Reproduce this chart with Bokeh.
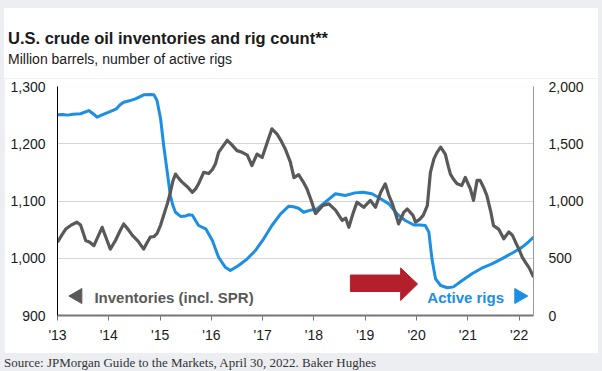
import math
from bokeh.plotting import figure
from bokeh.models import (Range1d, LinearAxis, FixedTicker, NumeralTickFormatter,
                          Label, Div)
from bokeh.layouts import column
from bokeh.embed import file_html
from bokeh.resources import INLINE

# ---------------- data ----------------
inv_t = [2013.00, 2013.08, 2013.16, 2013.27, 2013.38, 2013.45, 2013.55, 2013.63, 2013.71, 2013.80,
         2013.87, 2013.95, 2014.03, 2014.13, 2014.22, 2014.29, 2014.38, 2014.46, 2014.57, 2014.68,
         2014.75, 2014.81, 2014.88, 2014.94, 2015.01, 2015.07, 2015.14, 2015.20, 2015.25, 2015.30,
         2015.36, 2015.43, 2015.53, 2015.63, 2015.70, 2015.75, 2015.85, 2015.95, 2016.02, 2016.08,
         2016.14, 2016.22, 2016.31, 2016.40, 2016.50, 2016.60, 2016.70, 2016.79, 2016.89, 2016.99,
         2017.08, 2017.18, 2017.28, 2017.36, 2017.44, 2017.54, 2017.61, 2017.70, 2017.80, 2017.86,
         2017.95, 2018.03, 2018.10, 2018.17, 2018.29, 2018.42, 2018.55, 2018.62, 2018.68, 2018.76,
         2018.84, 2018.97, 2019.10, 2019.20, 2019.30, 2019.39, 2019.46, 2019.53, 2019.60, 2019.65,
         2019.75, 2019.82, 2019.93, 2019.98, 2020.06, 2020.13, 2020.21, 2020.27, 2020.34, 2020.40,
         2020.47, 2020.56, 2020.62, 2020.66, 2020.72, 2020.79, 2020.88, 2020.95, 2021.05, 2021.11,
         2021.18, 2021.24, 2021.30, 2021.37, 2021.45, 2021.50, 2021.60, 2021.70, 2021.80, 2021.87,
         2021.93, 2022.00, 2022.06, 2022.13, 2022.19, 2022.24, 2022.28]
inv_v = [1028, 1040, 1051, 1058, 1063, 1058, 1031, 1028, 1022, 1040,
         1054, 1035, 1016, 1031, 1048, 1060, 1050, 1040, 1030, 1016,
         1028, 1037, 1038, 1043, 1058, 1075, 1095, 1115, 1135, 1147,
         1140, 1133, 1125, 1115, 1122, 1130, 1150, 1148, 1155, 1165,
         1185, 1195, 1206, 1198, 1188, 1185, 1180, 1162, 1182, 1176,
         1200, 1226, 1217, 1205, 1191, 1168, 1141, 1146, 1132, 1122,
         1100, 1078, 1085, 1092, 1095, 1084, 1066, 1070, 1054, 1078,
         1098, 1089, 1101, 1089, 1115, 1130, 1110, 1095, 1075, 1060,
         1080, 1086, 1075, 1063, 1068, 1075, 1092, 1150, 1174, 1185,
         1194, 1182, 1160, 1147, 1138, 1130, 1127, 1141, 1121, 1101,
         1136, 1136, 1125, 1110, 1080, 1057, 1051, 1034, 1046, 1040,
         1028, 1015, 1002, 992, 984, 975, 967]

rig_t = [2013.00, 2013.10, 2013.20, 2013.30, 2013.45, 2013.61, 2013.70, 2013.77, 2013.88, 2014.00,
         2014.15, 2014.22, 2014.29, 2014.40, 2014.52, 2014.60, 2014.68, 2014.80, 2014.88, 2014.94,
         2015.01, 2015.07, 2015.14, 2015.20, 2015.25, 2015.30, 2015.40, 2015.50, 2015.56, 2015.63,
         2015.75, 2015.89, 2016.02, 2016.08, 2016.14, 2016.27, 2016.37, 2016.45, 2016.53, 2016.70,
         2016.86, 2017.02, 2017.18, 2017.35, 2017.51, 2017.60, 2017.70, 2017.80, 2017.93, 2018.06,
         2018.22, 2018.42, 2018.61, 2018.80, 2018.96, 2019.13, 2019.30, 2019.46, 2019.62, 2019.78,
         2019.95, 2020.07, 2020.17, 2020.24, 2020.30, 2020.37, 2020.47, 2020.60, 2020.72, 2020.89,
         2021.08, 2021.27, 2021.47, 2021.66, 2021.86, 2022.06, 2022.19, 2022.28]
rig_v = [1753, 1755, 1750, 1758, 1762, 1790, 1760, 1732, 1755, 1776,
         1805, 1840, 1863, 1875, 1892, 1910, 1927, 1930, 1927, 1878,
         1718, 1485, 1252, 1048, 960, 902, 865, 870, 880, 875,
         786, 757, 655, 580, 509, 422, 393, 415, 437, 495,
         568, 670, 786, 888, 955, 950, 937, 902, 920, 930,
         990, 1063, 1048, 1071, 1077, 1063, 1019, 975, 888, 830,
         790, 790, 786, 728, 495, 320, 262, 242, 250, 306,
         364, 413, 451, 495, 544, 597, 646, 684]

x_ticks = [2013, 2014, 2015, 2016, 2017, 2018, 2019, 2020, 2021, 2022]
x_tick_labels = ["'13", "'14", "'15", "'16", "'17", "'18", "'19", "'20", "'21", "'22"]
left_ticks = [900, 1000, 1100, 1200, 1300]
right_ticks = [0, 500, 1000, 1500, 2000]

title_text = "U.S. crude oil inventories and rig count**"
subtitle_text = "Million barrels, number of active rigs"
source_text = "Source: JPMorgan Guide to the Markets, April 30, 2022. Baker Hughes"

# ---------------- styles ----------------
FONT = "Liberation Sans"
GRAY = "#595959"
BLUE = "#1b8fe3"
RED = "#b3202b"
BG = "#eceef2"
INK = "#1a1a1a"

header = Div(
    text=('<div style="font-family:\'Liberation Sans\';font-weight:bold;font-size:16.5px;'
          'line-height:20px;color:%s;padding-top:20px;margin-left:4px;white-space:nowrap;">%s</div>'
          '<div style="font-family:\'Liberation Sans\';font-size:14px;line-height:18px;'
          'color:%s;padding-top:2px;margin-left:4px;white-space:nowrap;">%s</div>')
         % (INK, title_text, INK, subtitle_text),
    width=594, height=70, margin=(0, 0, 0, 0),
    styles={"background-color": "white"})

p = figure(width=594, height=275, output_backend="svg", toolbar_location=None,
           x_range=Range1d(2013, 2022.28), y_range=Range1d(900, 1300),
           min_border_left=53, min_border_right=65, min_border_top=8, min_border_bottom=38)
p.extra_y_ranges = {"rigs": Range1d(0, 2000)}
p.outline_line_color = None
p.background_fill_color = "white"
p.border_fill_color = "white"
p.xgrid.grid_line_color = None
p.ygrid.grid_line_color = "#d6d6d6"
p.ygrid.grid_line_width = 1

# left axis
la = p.yaxis[0]
la.ticker = FixedTicker(ticks=left_ticks)
la.formatter = NumeralTickFormatter(format="0,0")
la.axis_line_color = "black"
la.axis_line_width = 1
la.major_tick_out = 0
la.major_tick_in = 0
la.minor_tick_line_color = None
la.major_label_standoff = 12
la.major_label_text_font = FONT
la.major_label_text_font_size = "14px"
la.major_label_text_color = INK

# right axis
ra = LinearAxis(y_range_name="rigs", ticker=FixedTicker(ticks=right_ticks),
                formatter=NumeralTickFormatter(format="0,0"))
ra.axis_line_color = "#9a9a9a"
ra.axis_line_width = 1
ra.major_tick_out = 0
ra.major_tick_in = 0
ra.minor_tick_line_color = None
ra.major_label_standoff = 15
ra.major_label_text_font = FONT
ra.major_label_text_font_size = "14px"
ra.major_label_text_color = INK
p.add_layout(ra, "right")

# bottom axis
ba = p.xaxis[0]
ba.ticker = FixedTicker(ticks=x_ticks)
ba.major_label_overrides = {t: l for t, l in zip(x_ticks, x_tick_labels)}
ba.axis_line_color = "#777777"
ba.axis_line_width = 2
ba.major_tick_out = 5
ba.major_tick_in = 0
ba.major_tick_line_color = "#777777"
ba.major_tick_line_width = 1
ba.minor_tick_line_color = None
ba.major_label_standoff = 6
ba.major_label_text_font = FONT
ba.major_label_text_font_size = "14px"
ba.major_label_text_color = INK

# series
p.line(x=rig_t, y=rig_v, y_range_name="rigs", line_color=BLUE, line_width=3, line_join="round")
p.line(x=inv_t, y=inv_v, line_color=GRAY, line_width=3.2, line_join="round")

# annotations (positions in axis units)
p.scatter(x=[2013.39], y=[934], marker="triangle", size=15, angle=math.pi / 2,
          fill_color=GRAY, line_color=GRAY)
p.add_layout(Label(x=2013.72, y=931.5, text="Inventories (incl. SPR)", text_font=FONT,
                   text_font_size="15px", text_font_style="bold", text_color=GRAY,
                   text_baseline="middle"))
p.add_layout(Label(x=2020.21, y=931.5, text="Active rigs", text_font=FONT,
                   text_font_size="15px", text_font_style="bold", text_color=BLUE,
                   text_baseline="middle"))
p.scatter(x=[2022.0], y=[934], marker="triangle", size=15, angle=-math.pi / 2,
          fill_color=BLUE, line_color=BLUE)
arrow_x = [2018.71, 2019.69, 2019.69, 2020.02, 2019.69, 2019.69, 2018.71]
arrow_y = [970.7, 970.7, 983.0, 955.0, 926.2, 941.9, 941.9]
p.patch(x=arrow_x, y=arrow_y, fill_color=RED, line_color=RED, line_width=1)

src = Div(text=source_text, width=594, height=18, margin=(0, 0, 0, 0),
          styles={"font-family": "Liberation Serif", "font-size": "13px",
                  "line-height": "20px", "color": "#333333", "white-space": "nowrap"})

layout = column(header, p, src, spacing=0)
html = file_html(layout, INLINE)
css = ("<style>html, body{background:%s !important;} "
       "body{padding:8px 4px 0 4px !important; box-sizing:border-box; overflow:hidden;}</style>" % BG)
html = html.replace("</head>", css + "</head>", 1)
open("out.html", "w").write(html)
